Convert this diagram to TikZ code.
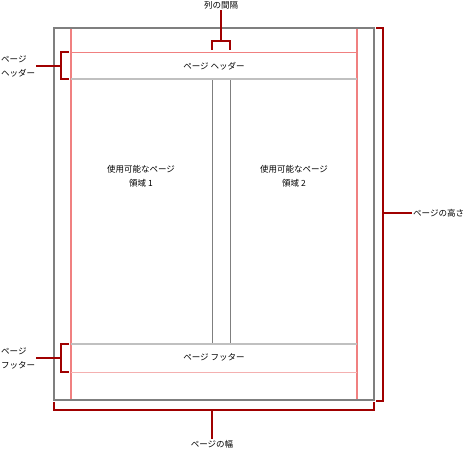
\documentclass[tikz,border=0pt]{standalone}
\usepackage{fontspec}
\setmainfont{Noto Sans CJK JP}
\usetikzlibrary{positioning}
\definecolor{pagegray}{HTML}{7F7F7F}
\definecolor{margred}{HTML}{F08080}
\definecolor{margpink}{HTML}{F4B0B0}
\definecolor{rulegray}{HTML}{C0C0C0}
\definecolor{brackred}{HTML}{A00000}

\begin{document}
\begin{tikzpicture}[x=1pt,y=-1pt]

    \tikzstyle{note} = [font=\fontsize{8.5}{14}\selectfont, align=center, inner sep=1pt]
    \tikzstyle{edge} = [draw=pagegray, line width=2pt]
    \tikzstyle{redline} = [draw=margred, line width=1pt]
    \tikzstyle{rule} = [draw=rulegray, line width=2pt]
    \tikzstyle{gutter} = [draw=pagegray, line width=1pt]
    \tikzstyle{brack} = [draw=brackred, line width=2pt]

    \useasboundingbox (0,0) rectangle (465,452);

    % margins and areas
    \draw[redline, line width=1.1pt] (71,28) -- (71,400);
    \draw[redline, line width=1.1pt] (357,28) -- (357,400);
    \draw[redline] (71,52.5) -- (357,52.5);
    \draw[redline, draw=margpink] (71,372.5) -- (357,372.5);
    \draw[rule] (71,79) -- (357,79);
    \draw[rule] (71,344) -- (357,344);
    \draw[gutter] (212.5,80) -- (212.5,343);
    \draw[gutter] (230.5,80) -- (230.5,343);
    \draw[edge] (54,28) rectangle (374,400);

    \node[note] (head) at (214,66)  {ページ ヘッダー};
    \node[note] (foot) at (214,357) {ページ フッター};
    \node[note] (col1) at (141,176) {使用可能なページ\\領域 1};
    \node[note] (col2) at (294,176) {使用可能なページ\\領域 2};

    % labels
    \node[note] (gap) at (221,5)   {列の間隔};
    \node[note, anchor=west, align=left] (hdr) at (0,66)  {ページ\\ヘッダー};
    \node[note, anchor=west, align=left] (ftr) at (0,358) {ページ\\フッター};
    \node[note] (wid) at (212,444) {ページの幅};
    \node[note, anchor=west] (hgt) at (412,213) {ページの高さ};

    % brackets
    \draw[brack] (212,50) -- (212,41) -- (230,41) -- (230,50);
    \draw[brack] (221,41) -- (gap.south);
    \draw[brack] (69,52) -- (61,52) -- (61,79) -- (69,79);
    \draw[brack] (61,66) -- (hdr.east |- 61,66);
    \draw[brack] (69,344) -- (61,344) -- (61,372) -- (69,372);
    \draw[brack] (61,358) -- (ftr.east |- 61,358);
    \draw[brack] (54,402) -- (54,410) -- (374,410) -- (374,402);
    \draw[brack] (212,410) -- (wid.north);
    \draw[brack] (376,28) -- (383,28) -- (383,401) -- (376,401);
    \draw[brack] (383,213) -- (hgt.west);

\end{tikzpicture}
\end{document}
